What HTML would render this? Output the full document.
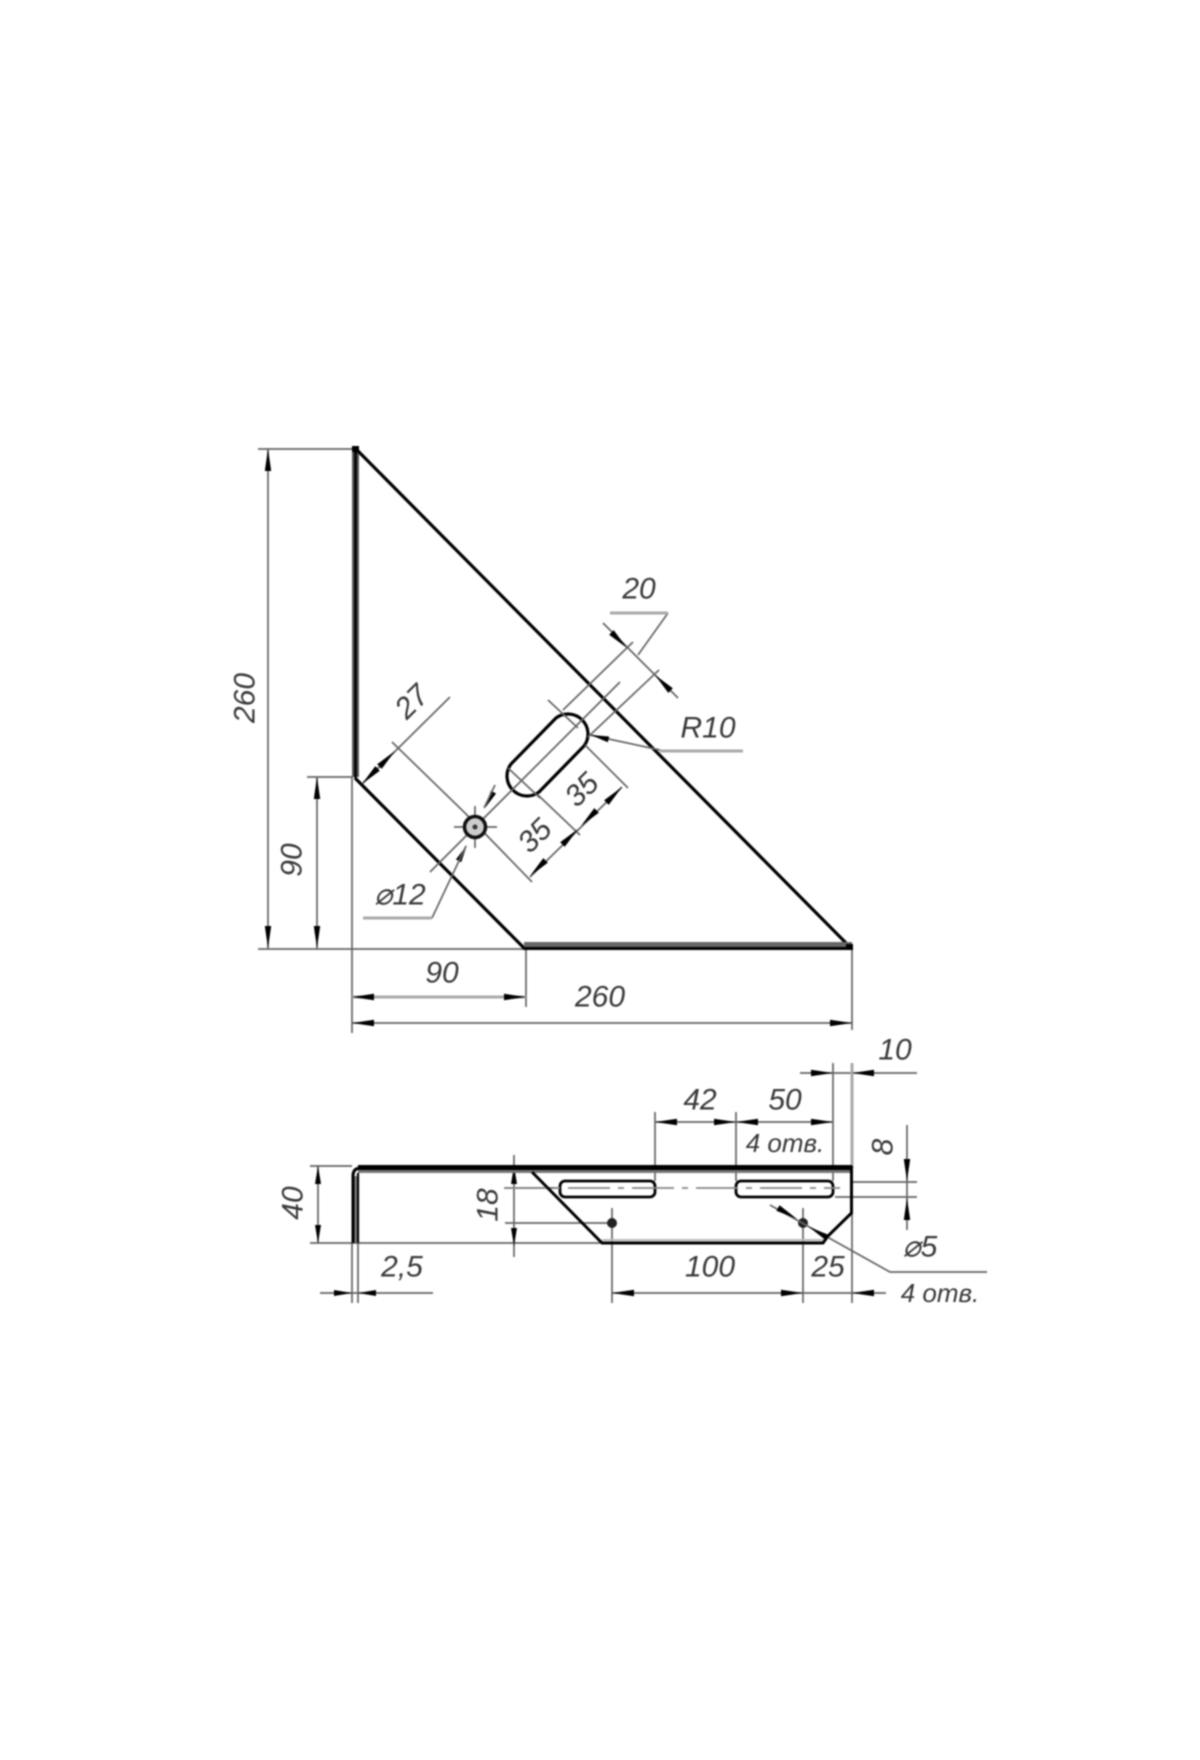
<!DOCTYPE html>
<html><head><meta charset="utf-8"><style>
html,body{margin:0;padding:0;background:#fff;width:1200px;height:1760px;overflow:hidden}
svg{display:block;filter:blur(.7px)}
text{font-family:"Liberation Sans",sans-serif;font-style:italic;font-size:30px;fill:#3a3a3a;text-anchor:middle;dominant-baseline:central}
.d{stroke:#666;stroke-width:1.7;fill:none}
.l{stroke:#aaa;stroke-width:3;fill:none}
.m{stroke:#000;stroke-width:3.200;fill:none}
</style></head><body>
<svg width="1200" height="1760" viewBox="0 0 1200 1760" xmlns="http://www.w3.org/2000/svg">
<defs><polygon id="ar" points="0,0 -22,-3.200 -22,3.200" fill="#000"/><polygon id="as" points="0,0 -18,-3 -18,3" fill="#000"/></defs>
<!-- top view dims -->
<path class="d" d="M258 449H355M268 449V949M258 949H523M307 777H352M317 777V949M352 777V1033M526 949V1007M852 950V1030M352 1023H852"/>
<path class="l" d="M352 997H526"/>
<use href="#ar" transform="translate(268 449) rotate(-90)"/>
<use href="#ar" transform="translate(268 948) rotate(90)"/>
<use href="#ar" transform="translate(317 777) rotate(-90)"/>
<use href="#ar" transform="translate(317 948) rotate(90)"/>
<use href="#ar" transform="translate(352 997) rotate(180)"/>
<use href="#ar" transform="translate(526 997)"/>
<use href="#ar" transform="translate(352 1023) rotate(180)"/>
<use href="#ar" transform="translate(852 1023)"/>
<!-- top view outline -->
<path d="M352 449H359V777H352Z" fill="#555"/>
<path d="M355.500 449V778" stroke="#000" stroke-width="2.500"/>
<path d="M352 446h7v6h-7z" fill="#000"/>
<path class="m" d="M356 449L850 947"/>
<path class="m" d="M355 778L524 948"/>
<path d="M524 942H852V947H524Z" fill="#666"/>
<path d="M523 948.500H852" stroke="#000" stroke-width="3"/>
<path d="M846 944h7v6h-7z" fill="#000"/>
<!-- slot -->
<path d="M556 718L511 764A20 20 0 0 0 539 792L584 746A20 20 0 0 0 556 718Z" fill="#fff" stroke="#000" stroke-width="3.200"/>
<!-- slot construction lines -->
<path class="d" d="M563 710L633 642M588 737L659 670M470 832L620 682M603 623L678 698M638 655L668 613"/>
<path class="d" d="M532 882L465 813M392 742L465 813M580 835L538 795M628 788L585 745M508 768L540 798M548 700L578 728"/>
<path class="d" d="M363 783L450 697M530 877L622 787M470 832L430 872"/>
<use href="#ar" transform="translate(627 648) rotate(45)"/>
<use href="#ar" transform="translate(655 675) rotate(225)"/>
<use href="#ar" transform="translate(395 751) rotate(-45)"/>
<use href="#ar" transform="translate(362 784) rotate(135)"/>
<use href="#ar" transform="translate(530 876) rotate(135)"/>
<use href="#ar" transform="translate(578 829) rotate(-45)"/>
<use href="#ar" transform="translate(581 826) rotate(135)"/>
<use href="#ar" transform="translate(622 787) rotate(-45)"/>
<path class="l" d="M610 613H668" stroke-width="2.500"/>
<!-- hole -->
<path class="d" d="M454 827H497M475 806V848"/>
<circle cx="475" cy="827" r="10.500" fill="#ccc" stroke="#111" stroke-width="3.500"/>
<circle cx="475" cy="827" r="2.500" fill="#333"/>
<use href="#as" transform="translate(485 808) rotate(118)"/>
<use href="#as" transform="translate(467 845) rotate(-62)"/>
<path class="d" d="M495 785L484 808M466 846L432 918"/>
<path class="l" d="M363 918H432"/>
<!-- R10 -->
<path class="d" d="M590 735L660 750"/>
<use href="#as" transform="translate(591 735) rotate(194)"/>
<path class="l" d="M660 751H743"/>
<!-- top view labels -->
<text x="245" y="698" transform="rotate(-90 245 698)">260</text>
<text x="292" y="860" transform="rotate(-90 292 860)">90</text>
<text x="442" y="973">90</text>
<text x="600" y="997">260</text>
<text x="412" y="702" transform="rotate(-45 412 702)">27</text>
<text x="639" y="589">20</text>
<text x="708" y="728">R10</text>
<text x="400" y="895">⌀12</text>
<text x="535" y="836" transform="rotate(-45 535 836)">35</text>
<text x="582" y="790" transform="rotate(-45 582 790)">35</text>
<!-- bottom view dims -->
<path class="d" d="M310 1166H352M310 1243H600M318 1166V1243M514 1155V1257M504 1188H560M505 1223H610M352 1243V1303M358 1243V1303M320 1293H433"/>
<path class="d" d="M655 1112V1181M736 1112V1181M833 1063V1181M655 1122H833M800 1073H917M852 1168V1303"/>
<path class="l" d="M852 1063V1168" stroke-width="2"/>
<path class="d" d="M852 1182H917M835 1197H917M907 1125V1230M612 1208V1303M803 1208V1303M612 1293H886"/>
<use href="#as" transform="translate(318 1166) rotate(-90)"/>
<use href="#as" transform="translate(318 1243) rotate(90)"/>
<use href="#as" transform="translate(514 1166) rotate(-90)"/>
<use href="#as" transform="translate(514 1246) rotate(90)"/>
<use href="#as" transform="translate(352 1293)"/>
<use href="#as" transform="translate(358 1293) rotate(180)"/>
<use href="#ar" transform="translate(655 1122) rotate(180)"/>
<use href="#ar" transform="translate(736 1122)"/>
<use href="#ar" transform="translate(736 1122) rotate(180)"/>
<use href="#ar" transform="translate(833 1122)"/>
<use href="#ar" transform="translate(833 1073)"/>
<use href="#ar" transform="translate(852 1073) rotate(180)"/>
<use href="#ar" transform="translate(907 1181) rotate(90)"/>
<use href="#ar" transform="translate(907 1198) rotate(-90)"/>
<use href="#ar" transform="translate(612 1293) rotate(180)"/>
<use href="#ar" transform="translate(803 1293)"/>
<use href="#ar" transform="translate(852 1293) rotate(180)"/>
<!-- bottom view outline -->
<path d="M358 1170H852V1173H358Z" fill="#777"/>
<path d="M358 1167.500H852" stroke="#000" stroke-width="5"/>
<path d="M353 1243V1176Q353 1168 361 1168" fill="none" stroke="#000" stroke-width="3"/>
<path d="M358 1243V1173" stroke="#000" stroke-width="2.200"/>
<path d="M354.500 1176H357V1243H354.500Z" fill="#777"/>
<path d="M851.500 1166V1213L828 1236L823 1243H602L532 1172" fill="none" stroke="#000" stroke-width="3"/>
<path d="M602 1240H823" stroke="#bbb" stroke-width="2"/>
<rect x="560" y="1181" width="95" height="16" rx="5" fill="#fff" stroke="#000" stroke-width="2.800"/>
<rect x="736" y="1181" width="97" height="16" rx="5" fill="#fff" stroke="#000" stroke-width="2.800"/>
<path d="M504 1188H840" stroke="#888" stroke-width="1.800" stroke-dasharray="42 8 6 8" fill="none"/>
<circle cx="612" cy="1223" r="5" fill="#222"/>
<circle cx="803" cy="1223" r="5" fill="#222"/>
<path class="d" d="M770 1205L890 1272H987"/>
<use href="#ar" transform="translate(797 1219) rotate(30)"/>
<use href="#ar" transform="translate(809 1227) rotate(210)"/>
<!-- bottom view labels -->
<text x="293" y="1203" transform="rotate(-90 293 1203)">40</text>
<text x="488" y="1205" transform="rotate(-90 488 1205)">18</text>
<text x="402" y="1267">2,5</text>
<text x="700" y="1100">42</text>
<text x="785" y="1100">50</text>
<text x="785" y="1143" style="font-size:26px">4 отв.</text>
<text x="895" y="1050">10</text>
<text x="883" y="1147" transform="rotate(-90 883 1147)">8</text>
<text x="710" y="1267">100</text>
<text x="828" y="1267">25</text>
<text x="920" y="1247">⌀5</text>
<text x="940" y="1293" style="font-size:26px">4 отв.</text>
</svg>
</body></html>
